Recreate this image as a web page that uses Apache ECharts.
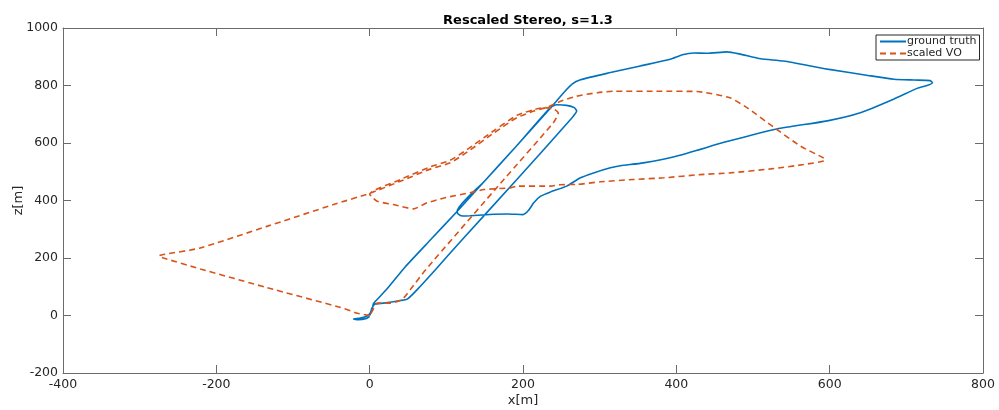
<!DOCTYPE html>
<html>
<head>
<meta charset="utf-8">
<script src="https://cdn.jsdelivr.net/npm/echarts@6/dist/echarts.min.js"></script>
<style>
html, body { margin: 0; padding: 0; background: #fff; }
#container { width: 999px; height: 410px; }
</style>
</head>
<body>
<div id="container"></div>
<script>
// ground truth trajectory (x, z in metres)
var gtX = [0, 2, 4, 5, 12, 25, 46, 80, 114, 150, 190, 238, 253, 264, 275, 314, 353, 392, 408, 423, 440, 466, 482, 510, 540, 597, 650, 684, 710, 731, 734, 727, 714, 684, 640, 597, 531, 466, 401, 357, 327, 314, 292, 275, 257, 236, 223, 214, 207, 200, 180, 162, 131, 122, 116, 114, 150, 190, 236, 244, 257, 267, 270, 264, 192, 120, 86, 62, 49, 40, 18, 7, 3, 1, -3, -12, -21, -15, -4, 0];
var gtZ = [0, 12, 30, 42, 62, 100, 168, 265, 362, 468, 585, 728, 775, 805, 820, 845, 868, 891, 907, 913, 912, 917, 910, 893, 885, 857, 835, 822, 819, 817, 810, 800, 790, 753, 705, 677, 649, 605, 555, 531, 521, 514, 496, 479, 450, 430, 415, 392, 365, 351, 353, 352, 347, 346, 352, 362, 468, 585, 724, 733, 731, 723, 711, 688, 473, 262, 160, 90, 57, 52, 43, 40, 26, 10, -1, -9, -12, -15, -10, -3];

// scaled visual odometry trajectory
var voX = [0, -16, -38, -134, -221, -269, -275, -269, -221, -134, -47, 0, 40, 80, 105, 127, 162, 192, 214, 231, 249, 270, 297, 318, 380, 427, 470, 492, 527, 562, 592, 594, 566, 523, 470, 431, 384, 344, 301, 271, 249, 236, 192, 184, 149, 131, 97, 75, 57, 31, 10, 3, 0, 40, 80, 105, 127, 162, 192, 214, 229, 241, 246, 240, 175, 73, 53, 42, 27, 10, 3, 0];
var voZ = [0, 8, 28, 97, 162, 200, 207, 212, 235, 310, 386, 425, 467, 510, 531, 568, 635, 688, 711, 724, 745, 763, 775, 780, 780, 779, 757, 723, 655, 589, 548, 540, 525, 510, 496, 490, 479, 473, 465, 456, 455, 450, 450, 444, 438, 427, 409, 392, 371, 386, 397, 412, 422, 473, 518, 540, 577, 643, 696, 716, 723, 717, 704, 672, 473, 159, 90, 55, 43, 43, 14, 0];

var xTicks = { min: -400, max: 800, step: 200 };
var zTicks = { min: -200, max: 1000, step: 200 };

function pairs(xs, zs) {
    return xs.map(function (x, i) { return [x, zs[i]]; });
}

var axisColor = '#6b6b6b';
var textColor = '#262626';
var fontName = 'DejaVu Sans';

function valueAxis(t, extra) {
    var a = {
        type: 'value',
        min: t.min,
        max: t.max,
        interval: t.step,
        axisLine: { show: true, onZero: false, lineStyle: { color: axisColor, width: 1 } },
        axisTick: { show: true, inside: true, length: 8, lineStyle: { color: axisColor, width: 1 } },
        axisLabel: {
            show: true, color: textColor, fontSize: 12.5, fontFamily: fontName, margin: 5,
            formatter: function (v) { return String(v); }
        },
        splitLine: { show: false }
    };
    for (var k in extra) a[k] = extra[k];
    return a;
}

var myChart = echarts.init(document.getElementById('container'), null, { renderer: 'canvas' });

myChart.setOption({
    animation: false,
    backgroundColor: '#fff',
    title: {
        text: 'Rescaled Stereo, s=1.3',
        left: 523,
        top: 9,
        textAlign: 'center',
        textStyle: { fontSize: 13, fontWeight: 'bold', color: '#000', fontFamily: fontName }
    },
    grid: { left: 63, right: 16, top: 28, bottom: 37, outerBoundsMode: 'none', containLabel: false },
    legend: {
        orient: 'vertical',
        left: 876,
        top: 35,
        padding: [1, 3, 1, 3],
        itemGap: 1,
        itemWidth: 26,
        itemHeight: 12,
        borderColor: '#262626',
        borderWidth: 1,
        backgroundColor: '#fff',
        itemStyle: { opacity: 0 },
        textStyle: { fontSize: 11, color: textColor, fontFamily: fontName, padding: [0, 0, 0, -4] },
        data: ['ground truth', 'scaled VO']
    },
    xAxis: [
        valueAxis(xTicks, {
            position: 'bottom',
            name: 'x[m]',
            nameLocation: 'middle',
            nameGap: 21,
            nameMoveOverlap: false,
            nameTextStyle: { fontSize: 13, color: textColor, fontFamily: fontName }
        }),
        valueAxis(xTicks, { position: 'top', axisLabel: { show: false } })
    ],
    yAxis: [
        valueAxis(zTicks, {
            position: 'left',
            name: 'z[m]',
            nameLocation: 'middle',
            nameGap: 38,
            nameMoveOverlap: false,
            nameTextStyle: { fontSize: 13, color: textColor, fontFamily: fontName }
        }),
        valueAxis(zTicks, { position: 'right', axisLabel: { show: false } })
    ],
    series: [
        {
            name: 'ground truth',
            type: 'line',
            xAxisIndex: 0,
            yAxisIndex: 0,
            showSymbol: false,
            symbol: 'none',
            smooth: 0.2,
            color: '#0072BD',
            lineStyle: { width: 1.6, color: '#0072BD' },
            data: pairs(gtX, gtZ)
        },
        {
            name: 'scaled VO',
            type: 'line',
            xAxisIndex: 0,
            yAxisIndex: 0,
            showSymbol: false,
            symbol: 'none',
            smooth: 0.2,
            color: '#D95319',
            lineStyle: { width: 1.6, color: '#D95319', type: [6, 4] },
            data: pairs(voX, voZ)
        }
    ]
});
</script>
</body>
</html>
